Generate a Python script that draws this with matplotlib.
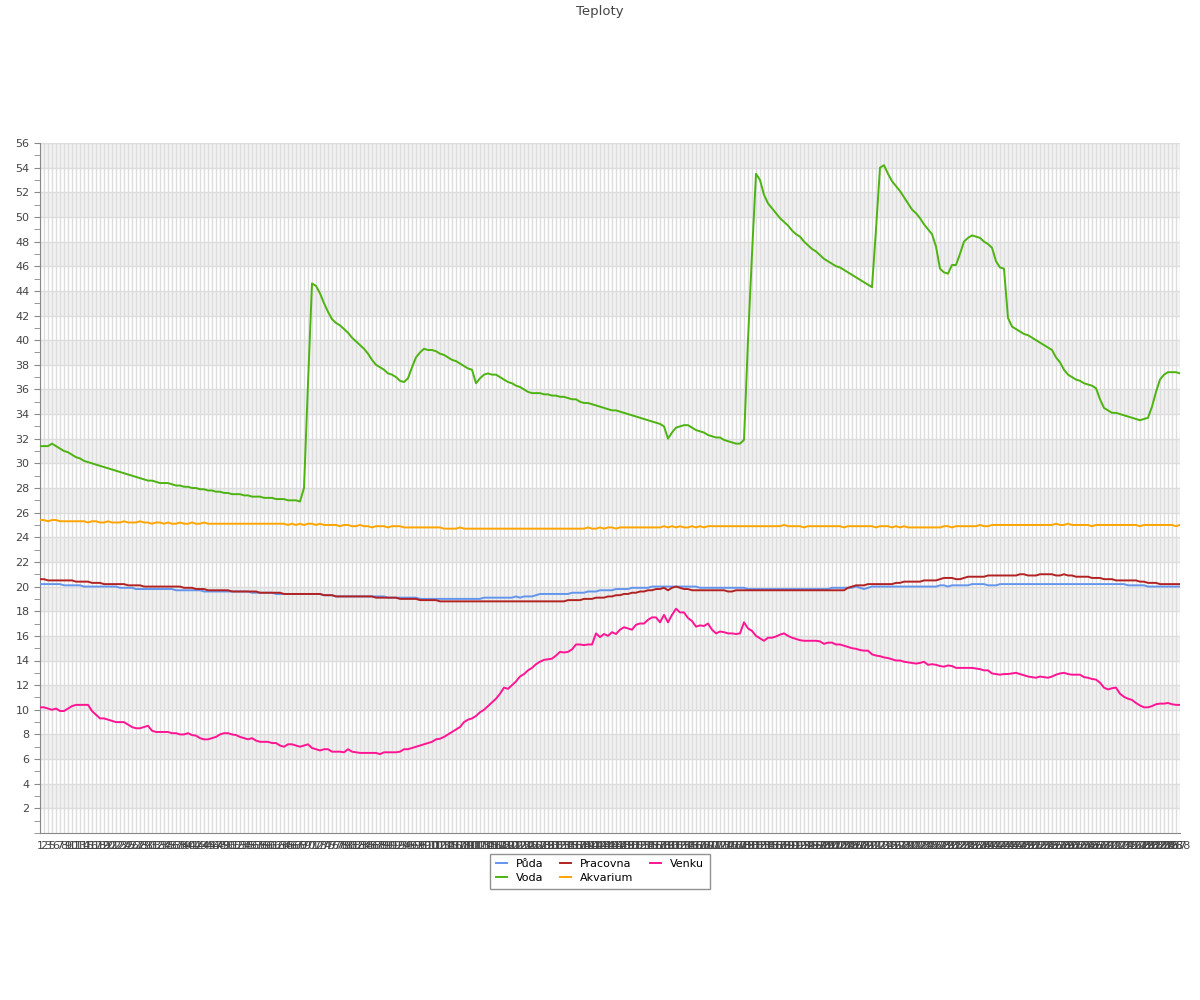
import numpy as np
from matplotlib import pyplot as plt
from matplotlib.ticker import MultipleLocator

# sample numbers on the x axis (a couple of samples are missing)
labels = [str(n) for n in range(1, 289) if n not in (4, 12)]

puda = [
    20.2, 20.2, 20.2, 20.2, 20.2, 20.2, 20.1, 20.1, 20.1, 20.1,
    20.1, 20.0, 20.0, 20.0, 20.0, 20.0, 20.0, 20.0, 20.0, 20.0,
    19.9, 19.9, 19.9, 19.9, 19.8, 19.8, 19.8, 19.8, 19.8, 19.8,
    19.8, 19.8, 19.8, 19.8, 19.7, 19.7, 19.7, 19.7, 19.7, 19.7,
    19.7, 19.6, 19.6, 19.6, 19.6, 19.6, 19.6, 19.6, 19.6, 19.6,
    19.6, 19.6, 19.6, 19.5, 19.5, 19.5, 19.5, 19.5, 19.5, 19.4,
    19.4, 19.4, 19.4, 19.4, 19.4, 19.4, 19.4, 19.4, 19.4, 19.4,
    19.4, 19.3, 19.3, 19.3, 19.2, 19.2, 19.2, 19.2, 19.2, 19.2,
    19.2, 19.2, 19.2, 19.2, 19.2, 19.2, 19.2, 19.1, 19.1, 19.1,
    19.1, 19.1, 19.1, 19.1, 19.1, 19.0, 19.0, 19.0, 19.0, 19.0,
    19.0, 19.0, 19.0, 19.0, 19.0, 19.0, 19.0, 19.0, 19.0, 19.0,
    19.0, 19.1, 19.1, 19.1, 19.1, 19.1, 19.1, 19.1, 19.1, 19.2,
    19.1, 19.2, 19.2, 19.2, 19.3, 19.4, 19.4, 19.4, 19.4, 19.4,
    19.4, 19.4, 19.4, 19.5, 19.5, 19.5, 19.5, 19.6, 19.6, 19.6,
    19.7, 19.7, 19.7, 19.7, 19.8, 19.8, 19.8, 19.8, 19.9, 19.9,
    19.9, 19.9, 19.9, 20.0, 20.0, 20.0, 20.0, 20.0, 20.0, 20.0,
    20.0, 20.0, 20.0, 20.0, 20.0, 19.9, 19.9, 19.9, 19.9, 19.9,
    19.9, 19.9, 19.9, 19.9, 19.9, 19.9, 19.9, 19.8, 19.8, 19.8,
    19.8, 19.8, 19.8, 19.8, 19.8, 19.8, 19.8, 19.8, 19.8, 19.8,
    19.8, 19.8, 19.8, 19.8, 19.8, 19.8, 19.8, 19.8, 19.9, 19.9,
    19.9, 19.9, 19.9, 19.9, 20.0, 19.9, 19.8, 19.9, 20.0, 20.0,
    20.0, 20.0, 20.0, 20.0, 20.0, 20.0, 20.0, 20.0, 20.0, 20.0,
    20.0, 20.0, 20.0, 20.0, 20.0, 20.1, 20.1, 20.0, 20.1, 20.1,
    20.1, 20.1, 20.1, 20.2, 20.2, 20.2, 20.2, 20.1, 20.1, 20.1,
    20.2, 20.2, 20.2, 20.2, 20.2, 20.2, 20.2, 20.2, 20.2, 20.2,
    20.2, 20.2, 20.2, 20.2, 20.2, 20.2, 20.2, 20.2, 20.2, 20.2,
    20.2, 20.2, 20.2, 20.2, 20.2, 20.2, 20.2, 20.2, 20.2, 20.2,
    20.2, 20.2, 20.1, 20.1, 20.1, 20.1, 20.1, 20.0, 20.0, 20.0,
    20.0, 20.0, 20.0, 20.0, 20.0, 20.0,
]

voda = [
    31.4, 31.4, 31.4, 31.6, 31.4, 31.2, 31.0, 30.9, 30.7, 30.5,
    30.4, 30.2, 30.1, 30.0, 29.9, 29.8, 29.7, 29.6, 29.5, 29.4,
    29.3, 29.2, 29.1, 29.0, 28.9, 28.8, 28.7, 28.6, 28.6, 28.5,
    28.4, 28.4, 28.4, 28.3, 28.2, 28.2, 28.1, 28.1, 28.0, 28.0,
    27.9, 27.9, 27.8, 27.8, 27.7, 27.7, 27.6, 27.6, 27.5, 27.5,
    27.5, 27.4, 27.4, 27.3, 27.3, 27.3, 27.2, 27.2, 27.2, 27.1,
    27.1, 27.1, 27.0, 27.0, 27.0, 26.9, 28.0, 36.5, 44.6, 44.4,
    43.8, 43.0, 42.3, 41.7, 41.4, 41.2, 40.9, 40.6, 40.2, 39.9,
    39.6, 39.3, 38.9, 38.4, 38.0, 37.8, 37.6, 37.3, 37.2, 37.0,
    36.7, 36.6, 36.9, 37.8, 38.6, 39.0, 39.3, 39.2, 39.2, 39.1,
    38.9, 38.8, 38.6, 38.4, 38.3, 38.1, 37.9, 37.7, 37.6, 36.5,
    36.9, 37.2, 37.3, 37.2, 37.2, 37.0, 36.8, 36.6, 36.5, 36.3,
    36.2, 36.0, 35.8, 35.7, 35.7, 35.7, 35.6, 35.6, 35.5, 35.5,
    35.4, 35.4, 35.3, 35.2, 35.2, 35.0, 34.9, 34.9, 34.8, 34.7,
    34.6, 34.5, 34.4, 34.3, 34.3, 34.2, 34.1, 34.0, 33.9, 33.8,
    33.7, 33.6, 33.5, 33.4, 33.3, 33.2, 33.0, 32.0, 32.5, 32.9,
    33.0, 33.1, 33.1, 32.9, 32.7, 32.6, 32.5, 32.3, 32.2, 32.1,
    32.1, 31.9, 31.8, 31.7, 31.6, 31.6, 31.9, 40.0, 47.0, 53.5,
    53.0, 51.8, 51.1, 50.7, 50.3, 49.9, 49.6, 49.3, 48.9, 48.6,
    48.4, 48.0, 47.7, 47.4, 47.2, 46.9, 46.6, 46.4, 46.2, 46.0,
    45.9, 45.7, 45.5, 45.3, 45.1, 44.9, 44.7, 44.5, 44.3, 49.0,
    54.0, 54.2, 53.5, 52.9, 52.5, 52.1, 51.6, 51.1, 50.6, 50.3,
    49.9, 49.4, 49.0, 48.6, 47.6, 45.8, 45.5, 45.4, 46.1, 46.1,
    47.0, 48.0, 48.3, 48.5, 48.4, 48.3, 48.0, 47.8, 47.5, 46.4,
    45.9, 45.8, 41.8, 41.1, 40.9, 40.7, 40.5, 40.4, 40.2, 40.0,
    39.8, 39.6, 39.4, 39.2, 38.6, 38.2, 37.6, 37.2, 37.0, 36.8,
    36.7, 36.5, 36.4, 36.3, 36.1, 35.2, 34.5, 34.3, 34.1, 34.1,
    34.0, 33.9, 33.8, 33.7, 33.6, 33.5, 33.6, 33.7, 34.6, 35.8,
    36.8, 37.2, 37.4, 37.4, 37.4, 37.3,
]

pracovna = [
    20.6, 20.6, 20.5, 20.5, 20.5, 20.5, 20.5, 20.5, 20.5, 20.4,
    20.4, 20.4, 20.4, 20.3, 20.3, 20.3, 20.2, 20.2, 20.2, 20.2,
    20.2, 20.2, 20.1, 20.1, 20.1, 20.1, 20.0, 20.0, 20.0, 20.0,
    20.0, 20.0, 20.0, 20.0, 20.0, 20.0, 19.9, 19.9, 19.9, 19.8,
    19.8, 19.8, 19.7, 19.7, 19.7, 19.7, 19.7, 19.7, 19.6, 19.6,
    19.6, 19.6, 19.6, 19.6, 19.6, 19.5, 19.5, 19.5, 19.5, 19.5,
    19.5, 19.4, 19.4, 19.4, 19.4, 19.4, 19.4, 19.4, 19.4, 19.4,
    19.4, 19.3, 19.3, 19.3, 19.2, 19.2, 19.2, 19.2, 19.2, 19.2,
    19.2, 19.2, 19.2, 19.2, 19.1, 19.1, 19.1, 19.1, 19.1, 19.1,
    19.0, 19.0, 19.0, 19.0, 19.0, 18.9, 18.9, 18.9, 18.9, 18.9,
    18.8, 18.8, 18.8, 18.8, 18.8, 18.8, 18.8, 18.8, 18.8, 18.8,
    18.8, 18.8, 18.8, 18.8, 18.8, 18.8, 18.8, 18.8, 18.8, 18.8,
    18.8, 18.8, 18.8, 18.8, 18.8, 18.8, 18.8, 18.8, 18.8, 18.8,
    18.8, 18.8, 18.9, 18.9, 18.9, 18.9, 19.0, 19.0, 19.0, 19.1,
    19.1, 19.1, 19.2, 19.2, 19.3, 19.3, 19.4, 19.4, 19.5, 19.5,
    19.6, 19.6, 19.7, 19.7, 19.8, 19.8, 19.9, 19.7, 19.9, 20.0,
    19.9, 19.8, 19.8, 19.7, 19.7, 19.7, 19.7, 19.7, 19.7, 19.7,
    19.7, 19.7, 19.6, 19.6, 19.7, 19.7, 19.7, 19.7, 19.7, 19.7,
    19.7, 19.7, 19.7, 19.7, 19.7, 19.7, 19.7, 19.7, 19.7, 19.7,
    19.7, 19.7, 19.7, 19.7, 19.7, 19.7, 19.7, 19.7, 19.7, 19.7,
    19.7, 19.7, 19.9, 20.0, 20.1, 20.1, 20.1, 20.2, 20.2, 20.2,
    20.2, 20.2, 20.2, 20.2, 20.3, 20.3, 20.4, 20.4, 20.4, 20.4,
    20.4, 20.5, 20.5, 20.5, 20.5, 20.6, 20.7, 20.7, 20.7, 20.6,
    20.6, 20.7, 20.8, 20.8, 20.8, 20.8, 20.8, 20.9, 20.9, 20.9,
    20.9, 20.9, 20.9, 20.9, 20.9, 21.0, 21.0, 20.9, 20.9, 20.9,
    21.0, 21.0, 21.0, 21.0, 20.9, 20.9, 21.0, 20.9, 20.9, 20.8,
    20.8, 20.8, 20.8, 20.7, 20.7, 20.7, 20.6, 20.6, 20.6, 20.5,
    20.5, 20.5, 20.5, 20.5, 20.5, 20.4, 20.4, 20.3, 20.3, 20.3,
    20.2, 20.2, 20.2, 20.2, 20.2, 20.2,
]

akvarium = [
    25.4, 25.4, 25.3, 25.4, 25.4, 25.3, 25.3, 25.3, 25.3, 25.3,
    25.3, 25.3, 25.2, 25.3, 25.3, 25.2, 25.2, 25.3, 25.2, 25.2,
    25.2, 25.3, 25.2, 25.2, 25.2, 25.3, 25.2, 25.2, 25.1, 25.2,
    25.2, 25.1, 25.2, 25.1, 25.1, 25.2, 25.1, 25.1, 25.2, 25.1,
    25.1, 25.2, 25.1, 25.1, 25.1, 25.1, 25.1, 25.1, 25.1, 25.1,
    25.1, 25.1, 25.1, 25.1, 25.1, 25.1, 25.1, 25.1, 25.1, 25.1,
    25.1, 25.1, 25.0, 25.1, 25.0, 25.1, 25.0, 25.1, 25.1, 25.0,
    25.1, 25.0, 25.0, 25.0, 25.0, 24.9, 25.0, 25.0, 24.9, 24.9,
    25.0, 24.9, 24.9, 24.8, 24.9, 24.9, 24.9, 24.8, 24.9, 24.9,
    24.9, 24.8, 24.8, 24.8, 24.8, 24.8, 24.8, 24.8, 24.8, 24.8,
    24.8, 24.7, 24.7, 24.7, 24.7, 24.8, 24.7, 24.7, 24.7, 24.7,
    24.7, 24.7, 24.7, 24.7, 24.7, 24.7, 24.7, 24.7, 24.7, 24.7,
    24.7, 24.7, 24.7, 24.7, 24.7, 24.7, 24.7, 24.7, 24.7, 24.7,
    24.7, 24.7, 24.7, 24.7, 24.7, 24.7, 24.7, 24.8, 24.7, 24.7,
    24.8, 24.7, 24.8, 24.8, 24.7, 24.8, 24.8, 24.8, 24.8, 24.8,
    24.8, 24.8, 24.8, 24.8, 24.8, 24.8, 24.9, 24.8, 24.9, 24.8,
    24.9, 24.8, 24.8, 24.9, 24.8, 24.9, 24.8, 24.9, 24.9, 24.9,
    24.9, 24.9, 24.9, 24.9, 24.9, 24.9, 24.9, 24.9, 24.9, 24.9,
    24.9, 24.9, 24.9, 24.9, 24.9, 24.9, 25.0, 24.9, 24.9, 24.9,
    24.9, 24.8, 24.9, 24.9, 24.9, 24.9, 24.9, 24.9, 24.9, 24.9,
    24.9, 24.8, 24.9, 24.9, 24.9, 24.9, 24.9, 24.9, 24.9, 24.8,
    24.9, 24.9, 24.9, 24.8, 24.9, 24.8, 24.9, 24.8, 24.8, 24.8,
    24.8, 24.8, 24.8, 24.8, 24.8, 24.8, 24.9, 24.9, 24.8, 24.9,
    24.9, 24.9, 24.9, 24.9, 24.9, 25.0, 24.9, 24.9, 25.0, 25.0,
    25.0, 25.0, 25.0, 25.0, 25.0, 25.0, 25.0, 25.0, 25.0, 25.0,
    25.0, 25.0, 25.0, 25.0, 25.1, 25.0, 25.0, 25.1, 25.0, 25.0,
    25.0, 25.0, 25.0, 24.9, 25.0, 25.0, 25.0, 25.0, 25.0, 25.0,
    25.0, 25.0, 25.0, 25.0, 25.0, 24.9, 25.0, 25.0, 25.0, 25.0,
    25.0, 25.0, 25.0, 25.0, 24.9, 25.0,
]

venku = [
    10.2, 10.2, 10.1, 10.0, 10.1, 9.9, 9.9, 10.1, 10.3, 10.4,
    10.4, 10.4, 10.4, 9.9, 9.6, 9.3, 9.3, 9.2, 9.1, 9.0,
    9.0, 9.0, 8.8, 8.6, 8.5, 8.5, 8.6, 8.7, 8.3, 8.2,
    8.2, 8.2, 8.2, 8.1, 8.1, 8.0, 8.0, 8.1, 7.95, 7.9,
    7.7, 7.6, 7.6, 7.7, 7.8, 8.0, 8.1, 8.1, 8.0, 7.95,
    7.8, 7.7, 7.6, 7.7, 7.5, 7.4, 7.4, 7.4, 7.3, 7.3,
    7.1, 7.0, 7.2, 7.2, 7.1, 7.0, 7.1, 7.2, 6.9, 6.8,
    6.7, 6.8, 6.8, 6.6, 6.6, 6.6, 6.55, 6.8, 6.6, 6.55,
    6.5, 6.5, 6.5, 6.5, 6.5, 6.4, 6.55, 6.55, 6.55, 6.55,
    6.6, 6.8, 6.8, 6.9, 7.0, 7.1, 7.2, 7.3, 7.4, 7.6,
    7.65, 7.8, 8.0, 8.2, 8.4, 8.6, 9.0, 9.2, 9.3, 9.5,
    9.8, 10.0, 10.3, 10.6, 10.9, 11.3, 11.8, 11.7, 12.0, 12.3,
    12.7, 12.9, 13.2, 13.4, 13.7, 13.9, 14.05, 14.1, 14.15, 14.4,
    14.7, 14.65, 14.7, 14.9, 15.3, 15.3, 15.25, 15.3, 15.3, 16.2,
    15.9, 16.15, 16.0, 16.3, 16.15, 16.5, 16.7, 16.6, 16.5, 16.9,
    17.0, 17.0, 17.3, 17.5, 17.5, 17.1, 17.7, 17.1, 17.7, 18.2,
    17.9, 17.9, 17.45, 17.2, 16.75, 16.85, 16.8, 17.0, 16.5, 16.2,
    16.35, 16.3, 16.2, 16.2, 16.15, 16.2, 17.1, 16.6, 16.4, 16.0,
    15.8, 15.6, 15.85, 15.85, 15.95, 16.1, 16.2, 16.0, 15.85, 15.75,
    15.65, 15.6, 15.6, 15.6, 15.6, 15.55, 15.35, 15.45, 15.45, 15.3,
    15.3, 15.2, 15.1, 15.0, 14.95, 14.85, 14.8, 14.8, 14.5, 14.4,
    14.35, 14.25, 14.2, 14.1, 14.0, 14.0, 13.9, 13.85, 13.8, 13.75,
    13.8, 13.9, 13.65, 13.7, 13.65, 13.55, 13.5, 13.6, 13.55, 13.4,
    13.4, 13.4, 13.4, 13.4, 13.35, 13.3, 13.2, 13.2, 12.95, 12.9,
    12.85, 12.9, 12.9, 12.95, 13.0, 12.9, 12.8, 12.7, 12.65, 12.6,
    12.7, 12.65, 12.6, 12.7, 12.85, 12.95, 13.0, 12.9, 12.85, 12.85,
    12.85, 12.65, 12.6, 12.5, 12.45, 12.2, 11.8, 11.65, 11.75, 11.8,
    11.3, 11.05, 10.9, 10.8, 10.55, 10.35, 10.2, 10.2, 10.3, 10.45,
    10.5, 10.5, 10.55, 10.45, 10.4, 10.4,
]

series = [
    ("Půda", puda, "#6495ED"),
    ("Voda", voda, "#4DB311"),
    ("Pracovna", pracovna, "#B22222"),
    ("Akvarium", akvarium, "#FFA500"),
    ("Venku", venku, "#FF1493"),
]

TEXT = "#444444"
GRID = "#dddddd"


def main() -> None:
    fig = plt.figure(figsize=(12, 10), dpi=100)
    ax = fig.add_axes([40 / 1200, 0.167, 1140 / 1200, 0.690])
    x = np.arange(len(labels))

    # alternating bands behind the horizontal grid
    for low in range(2, 56, 4):
        ax.axhspan(low, low + 2, color="#f2f2f2", zorder=0, lw=0)

    for name, values, color in series:
        ax.plot(x, values, color=color, lw=1.4, label=name, zorder=3)

    ax.set_xlim(0, len(labels) - 1)
    ax.set_ylim(0, 56)
    ax.set_xticks(x)
    ax.set_xticklabels(labels, fontsize=8, color=TEXT)
    ax.set_yticks(range(2, 57, 2))
    ax.yaxis.set_minor_locator(MultipleLocator(1))
    ax.tick_params(axis="y", labelsize=8, colors="#888888",
                   labelcolor=TEXT, length=4, width=0.8)
    ax.tick_params(axis="y", which="minor", colors="#888888", length=4)
    ax.tick_params(axis="x", length=0, pad=6)

    ax.grid(True, axis="both", color=GRID, lw=1, zorder=1)
    ax.set_axisbelow(True)
    for side in ("top", "right"):
        ax.spines[side].set_visible(False)
    for side in ("left", "bottom"):
        ax.spines[side].set_color("#888888")

    fig.text(0.5, 0.995, "Teploty", ha="center", va="top",
             fontsize=9.5, color=TEXT)

    leg = fig.legend(loc="upper center", bbox_to_anchor=(0.5, 0.152),
                     ncol=3, fontsize=8, frameon=True, fancybox=False,
                     handlelength=1.0, columnspacing=1.5,
                     borderpad=0.5, labelspacing=0.35)
    leg.get_frame().set_edgecolor("#777777")
    leg.get_frame().set_linewidth(1)

    fig.savefig("out.png", dpi=100)


if __name__ == "__main__":
    main()
